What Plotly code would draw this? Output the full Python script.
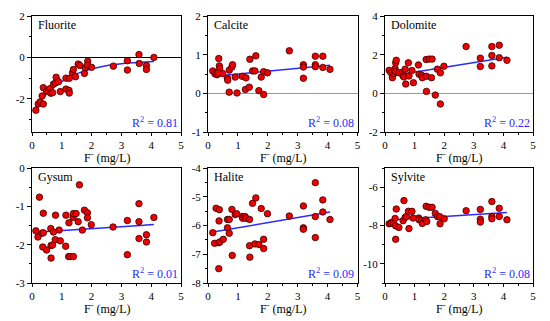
import numpy as np
import plotly.graph_objects as go

# ---------------- data ----------------
fluorite_x = [0.13, 0.21, 0.27, 0.38, 0.34, 0.38, 0.49, 0.55, 0.60, 0.63, 0.69, 0.72, 0.79, 0.81, 0.89, 0.95,
              1.14, 1.14, 1.24, 1.25, 1.25, 1.36, 1.39, 1.46, 1.55, 1.61, 1.76, 1.79, 1.87, 1.86, 2.00,
              2.73, 3.20, 3.20, 3.59, 3.60, 3.84, 3.84, 4.09]
fluorite_y = [-2.55, -2.25, -2.15, -2.25, -1.86, -1.46, -1.62, -1.65, -1.51, -1.73, -1.70, -1.29, -1.22, -0.96, -1.17, -1.65,
              -1.00, -1.53, -1.59, -1.72, -1.01, -0.74, -0.58, -0.93, -0.32, -0.39, -0.77, -0.50, -0.18, -0.37, -0.48,
              -0.42, -0.16, -0.61, 0.14, -0.29, -0.39, -0.58, 0.00]

calcite_x = [0.16, 0.23, 0.30, 0.36, 0.38, 0.39, 0.33, 0.49, 0.65, 0.66, 0.71, 0.80, 0.82, 0.71, 0.91, 0.97,
             1.14, 1.25, 1.27, 1.38, 1.40, 1.49, 1.57, 1.60, 1.70, 1.78, 1.86, 1.86, 1.99,
             2.72, 3.19, 3.19, 3.19, 3.59, 3.59, 3.59, 3.84, 3.84, 4.08]
calcite_y = [0.58, 0.51, 0.48, 0.90, 0.71, 0.64, 0.53, 0.51, 0.39, 0.34, 0.60, 0.68, 0.74, 0.03, 0.42, 0.01,
             0.44, 0.10, 0.40, 0.16, 0.88, 0.58, 0.58, 0.97, 0.07, 0.42, 0.56, -0.03, 0.53,
             1.10, 0.74, 0.68, 0.39, 0.96, 0.74, 0.69, 0.96, 0.67, 0.62]

dolomite_x = [0.14, 0.20, 0.25, 0.30, 0.34, 0.36, 0.38, 0.35, 0.47, 0.59, 0.61, 0.64, 0.68, 0.70, 0.79, 0.81, 0.91, 0.96,
              1.13, 1.15, 1.24, 1.26, 1.39, 1.40, 1.40, 1.49, 1.57, 1.59, 1.70, 1.77, 1.87, 1.87, 1.99,
              2.74, 3.22, 3.22, 3.61, 3.61, 3.61, 3.86, 3.86, 4.12]
dolomite_y = [1.19, 1.07, 0.81, 1.02, 1.28, 1.58, 1.71, 1.13, 1.06, 1.09, 0.90, 0.85, 1.25, 0.48, 1.58, 0.90, 1.18, 0.55,
              1.47, 0.99, 0.94, 0.81, 1.75, 0.88, 0.10, 1.77, 0.81, 1.77, -0.09, 1.25, 1.06, -0.55, 1.40,
              2.42, 1.82, 1.39, 2.42, 1.96, 1.42, 2.49, 1.84, 1.71]

gysum_x = [0.13, 0.20, 0.25, 0.34, 0.36, 0.38, 0.38, 0.49, 0.63, 0.64, 0.64, 0.69, 0.72, 0.78, 0.79, 0.91, 0.95,
           1.13, 1.14, 1.23, 1.24, 1.28, 1.38, 1.39, 1.39, 1.48, 1.55, 1.59, 1.69, 1.76, 1.86, 1.86, 1.99,
           2.72, 3.20, 3.20, 3.59, 3.59, 3.59, 3.84, 3.84, 4.09]
gysum_y = [-1.64, -1.80, -0.76, -1.70, -2.06, -1.18, -1.69, -2.14, -1.58, -2.02, -2.35, -2.01, -1.67, -1.87, -1.23, -1.62, -1.90,
           -2.04, -1.23, -2.31, -1.43, -2.31, -1.29, -2.31, -1.19, -1.19, -1.40, -0.44, -1.62, -1.10, -1.17, -1.30, -1.48,
           -1.54, -1.37, -2.26, -0.93, -1.40, -1.84, -1.74, -1.93, -1.29]

halite_x = [0.16, 0.22, 0.27, 0.36, 0.38, 0.37, 0.40, 0.36, 0.51, 0.65, 0.71, 0.65, 0.71, 0.80, 0.81, 0.91, 0.96,
            1.14, 1.16, 1.24, 1.27, 1.39, 1.39, 1.40, 1.49, 1.57, 1.60, 1.70, 1.78, 1.86, 1.86, 1.99,
            2.72, 3.19, 3.19, 3.19, 3.59, 3.59, 3.59, 3.84, 3.84, 4.08]
halite_y = [-6.25, -6.62, -5.40, -6.60, -5.45, -5.84, -6.57, -7.50, -6.48, -5.79, -5.79, -6.08, -6.27, -5.44, -7.04, -5.62, -5.59,
            -5.69, -5.75, -5.69, -5.75, -5.79, -6.70, -7.10, -5.23, -6.64, -5.04, -6.66, -5.41, -6.48, -6.80, -5.59,
            -5.67, -5.32, -6.08, -6.13, -4.51, -5.69, -6.42, -5.11, -5.53, -5.79]

sylvite_x = [0.14, 0.20, 0.27, 0.34, 0.36, 0.38, 0.36, 0.47, 0.61, 0.64, 0.68, 0.72, 0.79, 0.81, 0.91, 0.95,
             1.14, 1.15, 1.24, 1.26, 1.37, 1.39, 1.41, 1.49, 1.59, 1.70, 1.78, 1.85, 1.86, 2.00,
             2.74, 3.22, 3.22, 3.22, 3.61, 3.61, 3.61, 3.86, 3.86, 4.12]
sylvite_y = [-7.91, -7.88, -7.84, -7.63, -8.02, -7.14, -8.72, -8.10, -7.75, -6.70, -7.58, -7.53, -7.26, -8.16, -7.26, -7.61,
             -7.61, -7.70, -7.74, -7.89, -7.70, -7.00, -7.79, -7.05, -7.05, -7.37, -7.54, -7.54, -7.91, -7.65,
             -7.23, -7.16, -7.67, -7.82, -6.75, -7.53, -7.65, -7.10, -7.53, -7.70]

panel_names = ["Fluorite", "Calcite", "Dolomite", "Gysum", "Halite", "Sylvite"]
r2_labels = ["0.81", "0.08", "0.22", "0.01", "0.09", "0.08"]
x_title = "F<sup>-</sup> (mg/L)"
x_ticks = [0, 1, 2, 3, 4, 5]
y_ranges = [[-3.6, 2], [-1, 2], [-2, 4], [-3, 0], [-8, -4], [-11, -5]]
y_ticks = [[-2, 0, 2], [-1, 0, 1, 2], [-2, 0, 2, 4], [-3, -2, -1, 0], [-8, -7, -6, -5, -4], [-10, -8, -6]]
y_minor = [1, 0.5, 1, 0.5, 0.5, 1]
xs = [fluorite_x, calcite_x, dolomite_x, gysum_x, halite_x, sylvite_x]
ys = [fluorite_y, calcite_y, dolomite_y, gysum_y, halite_y, sylvite_y]

# ---------------- layout geometry (pixels of a 550x321 canvas) ----------------
W, H = 550, 321
col_px = [(32, 181), (208, 357.5), (385, 533)]
row_px = [(16, 132), (168, 283)]
title_px = [157.5, 308.5]

FONT = "'Liberation Serif', 'DejaVu Serif', serif"
RED = "#ee0000"
BLUE = "#2b2bff"

def fmt(v):
    return ("-" + str(abs(v))) if v < 0 else str(v)

fig = go.Figure()
layout = dict(width=W, height=H, margin=dict(l=0, r=0, t=0, b=0, autoexpand=False),
              paper_bgcolor="white", plot_bgcolor="white", showlegend=False,
              font=dict(family=FONT, size=11, color="black"))
annotations = []

for i in range(6):
    r, c = divmod(i, 3)
    ax = "" if i == 0 else str(i + 1)
    x = np.array(xs[i], dtype=float)
    y = np.array(ys[i], dtype=float)
    xf = np.linspace(x.min(), x.max(), 100)
    if i == 0:
        # saturating exponential fit y = c0 - d*exp(-k x), least squares over k grid
        best = None
        for k in np.linspace(0.1, 3.0, 291):
            A = np.column_stack([np.ones_like(x), -np.exp(-k * x)])
            coef, *_ = np.linalg.lstsq(A, y, rcond=None)
            res = np.sum((A @ coef - y) ** 2)
            if best is None or res < best[0]:
                best = (res, k, coef)
        _, k, coef = best
        yf = coef[0] - coef[1] * np.exp(-k * xf)
    else:
        p = np.polyfit(x, y, 1)
        yf = np.polyval(p, xf)

    fig.add_trace(go.Scatter(x=xf, y=yf, mode="lines", line=dict(color=BLUE, width=1.5),
                             xaxis="x" + ax, yaxis="y" + ax, hoverinfo="skip"))
    fig.add_trace(go.Scatter(x=x, y=y, mode="markers",
                             marker=dict(color=RED, size=6.5, line=dict(color="#3a0000", width=0.8)),
                             xaxis="x" + ax, yaxis="y" + ax))

    x0, x1 = col_px[c]
    y0, y1 = row_px[r]
    layout["xaxis" + ax] = dict(
        domain=[x0 / W, x1 / W], anchor="y" + ax, range=[0, 5], automargin=False,
        tickvals=x_ticks, ticktext=[str(t) for t in x_ticks],
        ticks="outside", ticklen=3, tickcolor="black", showline=True, linecolor="black",
        linewidth=1, mirror=True, showgrid=False, zeroline=False,
        minor=dict(dtick=0.5, tick0=0, ticks="outside", ticklen=2, tickcolor="black"),
        tickfont=dict(family=FONT, size=11),
    )
    zl = dict(zeroline=False)
    if i == 0:
        zl = dict(zeroline=True, zerolinecolor="black", zerolinewidth=1)
    elif i in (1, 2):
        zl = dict(zeroline=True, zerolinecolor="#999999", zerolinewidth=1)
    layout["yaxis" + ax] = dict(
        domain=[1 - y1 / H, 1 - y0 / H], anchor="x" + ax, range=y_ranges[i], automargin=False,
        tickvals=y_ticks[i], ticktext=[fmt(t) for t in y_ticks[i]],
        ticks="outside", ticklen=4, tickcolor="black", showline=True, linecolor="black",
        linewidth=1, mirror=True, showgrid=False,
        minor=dict(dtick=y_minor[i], tick0=0, ticks="outside", ticklen=2, tickcolor="black"),
        tickfont=dict(family=FONT, size=11), **zl,
    )
    annotations.append(dict(text=panel_names[i], xref="x" + ax + " domain", yref="y" + ax + " domain",
                            x=0.025, y=1.0, xanchor="left", yanchor="top", showarrow=False,
                            font=dict(family=FONT, size=12, color="black")))
    annotations.append(dict(text="R<sup>2</sup> = " + r2_labels[i], xref="x" + ax + " domain",
                            yref="y" + ax + " domain", x=0.99, y=0.0, xanchor="right", yanchor="bottom",
                            showarrow=False, font=dict(family=FONT, size=12, color=BLUE)))
    annotations.append(dict(text=x_title, xref="x" + ax + " domain", yref="paper",
                            x=0.5, y=1 - title_px[r] / H, xanchor="center", yanchor="middle",
                            showarrow=False, font=dict(family=FONT, size=12, color="black")))

layout["annotations"] = annotations
fig.update_layout(**layout)
fig.write_html("out.html", config={"displayModeBar": False},
               post_script="document.body.style.margin='0px';")
